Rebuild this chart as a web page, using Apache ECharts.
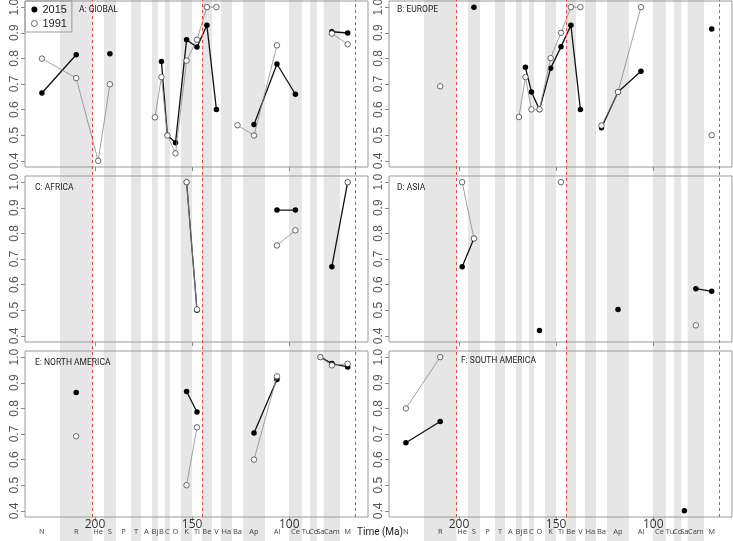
<!DOCTYPE html>
<html><head><meta charset="utf-8">
<script src="https://cdn.jsdelivr.net/npm/echarts@6/dist/echarts.min.js"></script>
<style>html,body{margin:0;padding:0;background:#fff}#c{width:733px;height:541px}</style>
</head><body><div id="c"></div>
<script>
// ---- data ----
const stages = ['N','R','He','S','P','T','A','Bj','B','C','O','K','Ti','Be','V','Ha','Ba','Ap','Al','Ce','Tu','Co','Sa','Cam','M'];
// stage boundaries (Ma), oldest first; stage i spans bounds[i]..bounds[i+1]
const bounds = [236.6,218.0,201.3,195.4,189.2,181.5,176.3,170.7,167.6,164.0,161.4,155.7,150.0,145.0,139.8,135.2,129.5,123.8,112.5,100.2,93.5,89.3,85.7,82.3,73.9,66.0];
const boundaryLines = [201.3, 145.0, 66.0];
const xTicks = [200, 150, 100];
const yTicks = [0.4, 0.5, 0.6, 0.7, 0.8, 0.9, 1.0];

const global2015 = [0.665,0.814,null,0.818,null,null,null,null,0.788,0.50,0.471,0.873,0.844,0.929,0.60,null,null,0.542,0.778,0.660,null,null,null,0.904,0.899];
const global1991 = [0.799,0.723,0.40,0.699,null,null,null,0.570,0.727,0.499,0.429,0.791,0.873,1.0,1.0,null,0.539,0.499,0.851,null,null,null,null,0.897,0.855];
const europe2015 = [null,null,null,1.0,null,null,null,null,0.765,0.669,0.60,0.761,0.845,0.929,0.60,null,0.529,0.669,0.75,null,null,null,null,null,0.915];
const europe1991 = [null,0.691,null,null,null,null,null,0.571,0.727,0.601,0.601,0.801,0.90,1.0,1.0,null,0.538,0.669,1.0,null,null,null,null,null,0.50];
const africa2015 = [null,null,null,null,null,null,null,null,null,null,null,1.0,0.50,null,null,null,null,null,0.891,0.891,null,null,null,0.670,1.0];
const africa1991 = [null,null,null,null,null,null,null,null,null,null,null,1.0,0.503,null,null,null,null,null,0.753,0.812,null,null,null,null,1.0];
const asia2015 = [null,null,0.67,0.78,null,null,null,null,null,null,0.421,null,null,null,null,null,null,0.503,null,null,null,null,null,0.584,0.574];
const asia1991 = [null,null,1.0,0.78,null,null,null,null,null,null,null,null,1.0,null,null,null,null,null,null,null,null,null,null,0.441,null];
const namerica2015 = [null,0.862,null,null,null,null,null,null,null,null,null,0.866,0.786,null,null,null,null,0.704,0.913,null,null,null,1.0,0.975,0.962];
const namerica1991 = [null,0.691,null,null,null,null,null,null,null,null,null,0.50,0.726,null,null,null,null,0.60,0.925,null,null,null,1.0,0.968,0.974];
const samerica2015 = [0.666,0.749,null,null,null,null,null,null,null,null,null,null,null,null,null,null,null,null,null,null,null,null,0.40,null,null];
const samerica1991 = [0.80,1.0,null,null,null,null,null,null,null,null,null,null,null,null,null,null,null,null,null,null,null,null,null,null,null];

// ---- layout ----
const X_MIN = 59.5, X_MAX = 236.0;
const Y_MIN = 0.376, Y_MAX = 1.024;
const colLeft = [25, 389], W = 343;
const rowTop = [1, 176, 351], H = 166;
const mids = stages.map((s, i) => (bounds[i] + bounds[i + 1]) / 2);
const bands = stages.map((s, i) => [bounds[i], bounds[i + 1]]).filter((b, i) => i % 2 === 1);

const panels = [
  {title:'A: GlOBAL', d15: global2015, d91: global1991, col:0, row:0, tx:79, ty:5},
  {title:'B: EUROPE', d15: europe2015, d91: europe1991, col:1, row:0, tx:397, ty:5},
  {title:'C: AFRICA', d15: africa2015, d91: africa1991, col:0, row:1, tx:35, ty:183, yName:"Good's u"},
  {title:'D: ASIA', d15: asia2015, d91: asia1991, col:1, row:1, tx:397, ty:183},
  {title:'E: NORTH AMERICA', d15: namerica2015, d91: namerica1991, col:0, row:2, tx:35, ty:358},
  {title:'F: SOUTH AMERICA', d15: samerica2015, d91: samerica1991, col:1, row:2, tx:461, ty:356}
];

const grid = [], xAxis = [], yAxis = [], series = [], title = [];
const hidX = (gi) => ({gridIndex: gi, type:'value', min:X_MIN, max:X_MAX, inverse:true, show:false});
const hidY = (gi) => ({gridIndex: gi, type:'value', min:0, max:1, show:false});

// background stage bands (full height) and boundary lines, per column
[0,1].forEach(c => {
  grid.push({left: colLeft[c], top: 0, width: W, height: 541, show:false, outerBoundsMode:'none'});
  let gi = grid.length - 1;
  xAxis.push(hidX(gi)); yAxis.push(hidY(gi));
  series.push({type:'custom', xAxisIndex: xAxis.length-1, yAxisIndex: yAxis.length-1, z:0, silent:true, clip:false,
    data: bands,
    renderItem: (params, api) => {
      const a = api.coord([api.value(0), 0]), b = api.coord([api.value(1), 0]);
      const cs = params.coordSys;
      return {type:'rect', shape:{x: Math.min(a[0], b[0]), y: cs.y, width: Math.abs(b[0]-a[0]), height: cs.height}, style:{fill:'#e6e6e6'}};
    }});
  grid.push({left: colLeft[c], top: 0, width: W, height: 517, show:false, outerBoundsMode:'none'});
  gi = grid.length - 1;
  xAxis.push(hidX(gi)); yAxis.push(hidY(gi));
  series.push({type:'line', xAxisIndex: xAxis.length-1, yAxisIndex: yAxis.length-1, z:1, silent:true,
    data: [], symbol:'none',
    markLine:{silent:true, symbol:'none', animation:false, label:{show:false},
      lineStyle:{color:'#e8463f', width:1, type:[3,3]},
      data: boundaryLines.map(v => ({xAxis: v}))}});
});

const font = "'Liberation Sans', Arial, sans-serif";
const font2 = "'Open Sans', 'Noto Sans', sans-serif";
const font3 = "Roboto, 'Open Sans', sans-serif";

panels.forEach(p => {
  grid.push({left: colLeft[p.col], top: rowTop[p.row], width: W, height: H, show:true, borderColor:'#9a9a9a', borderWidth:1, backgroundColor:'transparent', z:2, outerBoundsMode:'none'});
  const gi = grid.length - 1;
  const bottom = p.row === 2;
  xAxis.push({gridIndex: gi, type:'value', min:X_MIN, max:X_MAX, inverse:true, z:2,
    axisLine:{show:false}, splitLine:{show:false},
    axisTick:{show:true, customValues:xTicks, length:4, lineStyle:{color:'#8a8a8a'}},
    axisLabel:{show:bottom, customValues:xTicks, margin:2, fontSize:12, fontFamily:font2, color:'#333'}});
  const xi = xAxis.length - 1;
  if (bottom) {
    xAxis.push({gridIndex: gi, type:'value', min:X_MIN, max:X_MAX, inverse:true, position:'bottom', z:2,
      axisLine:{show:false}, splitLine:{show:false}, axisTick:{show:false},
      axisLabel:{show:true, customValues:mids, margin:11, fontSize:7.5, fontFamily:font2, color:'#444',
        formatter: v => { const i = mids.findIndex(m => Math.abs(m - v) < 1e-6); return i >= 0 ? stages[i] : ''; }}});
  }
  yAxis.push({gridIndex: gi, type:'value', min:Y_MIN, max:Y_MAX, z:2,
    name: p.yName || '', nameLocation:'middle', nameGap:24, nameRotate:90,
    nameTextStyle:{fontSize:11, fontFamily:font3, color:'#333'},
    axisLine:{show:false}, splitLine:{show:false},
    axisTick:{show:true, customValues:yTicks, length:4, lineStyle:{color:'#8a8a8a'}},
    axisLabel:{show:true, customValues:yTicks, rotate:90, margin:4, fontSize:12, fontFamily:font, color:'#555',
      formatter: v => v.toFixed(1)}});
  const yi = yAxis.length - 1;
  const toData = arr => mids.map((m, i) => [m, arr[i] === null ? '-' : arr[i]]);
  series.push({name:'2015', type:'line', xAxisIndex: xi, yAxisIndex: yi, data: toData(p.d15), z:3,
    connectNulls:false, symbol:'circle', symbolSize:5.5, showSymbol:true,
    itemStyle:{color:'#000'}, lineStyle:{color:'#111', width:1.3}, silent:true});
  series.push({name:'1991', type:'line', xAxisIndex: xi, yAxisIndex: yi, data: toData(p.d91), z:4,
    connectNulls:false, symbol:'circle', symbolSize:5.5, showSymbol:true,
    itemStyle:{color:'#fff', borderColor:'#444', borderWidth:0.8}, lineStyle:{color:'#8a8a8a', width:0.8}, silent:true});
  title.push({text: p.title, left: p.tx, top: p.ty, padding:0,
    textStyle:{fontSize:8.5, fontWeight:'normal', fontFamily:font3, color:'#222'}});
});

title.push({text:'Time (Ma)', left:357, top:527, padding:0,
  textStyle:{fontSize:10, fontWeight:'normal', fontFamily:font3, color:'#222'}});

const chart = echarts.init(document.getElementById('c'), null, {renderer:'canvas'});
chart.setOption({
  animation:false,
  backgroundColor:'#fff',
  title,
  legend:{left:25, top:1, orient:'vertical', selectedMode:false, z:6,
    itemWidth:6, itemHeight:6, itemGap:3, padding:[3,5,3,6],
    borderColor:'#999', borderWidth:1, borderRadius:0,
    textStyle:{fontSize:11, fontFamily:font, color:'#222'},
    data:[{name:'2015', icon:'circle', itemStyle:{color:'#000'}},
          {name:'1991', icon:'circle', itemStyle:{color:'#fff', borderColor:'#444', borderWidth:0.8}}]},
  grid, xAxis, yAxis, series
});
</script></body></html>
